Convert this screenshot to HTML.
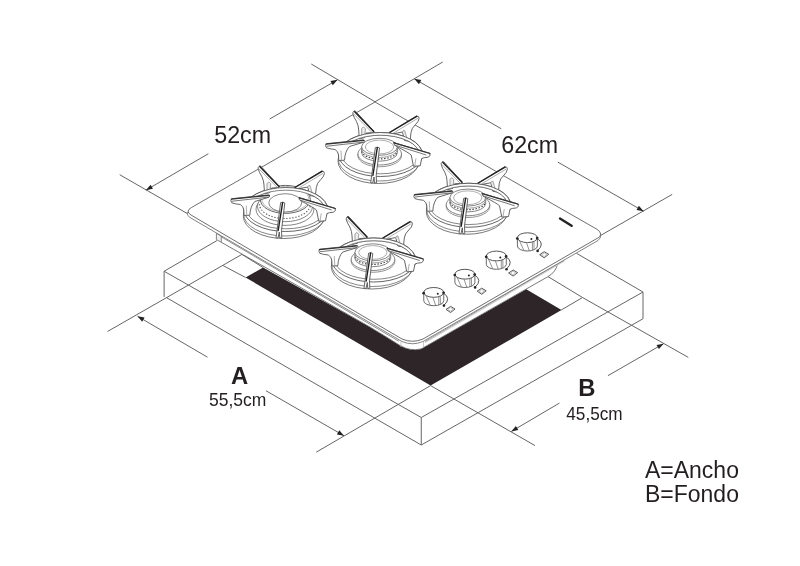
<!DOCTYPE html>
<html><head><meta charset="utf-8">
<style>
html,body{margin:0;padding:0;background:#fff;width:800px;height:566px;overflow:hidden}
svg{display:block;position:absolute;left:0;top:0}
.t{font-family:"Liberation Sans",sans-serif;fill:#231f20}
</style></head><body>
<svg width="800" height="566" viewBox="0 0 800 566">

<!-- dark cutout -->
<path d="M245.6,277.5 L263.1,267.5 L369,326.5 Q385,336 400,345.5 Q410,351.5 421,349 L526.25,289.15 L561.5,310 L430.6,385.6 Z" fill="#2d2528"/>

<g fill="none" stroke="#666" stroke-width="1">
  <!-- countertop box -->
  <path d="M216.9,240.6 L164.1,271.25 L164.1,296.9"/>
  <path d="M164.1,271.25 L421.25,417.5 L643,292 L576.5,253.3"/>
  <path d="M166.25,297.5 L421.25,445 L643,318.75 L643,292"/>
  <path d="M421.25,417.5 L421.25,445"/>
  <!-- cutout lines -->
  <path d="M241.9,254.4 L263.1,267.5"/>
  <path d="M223.1,265.6 L245.6,277.5"/>
  <path d="M582.5,297.5 L561.25,310"/>
  <path d="M548,276.6 L582.5,297.5"/>
  <!-- A extension/dimension -->
  <path d="M107.5,331.5 L241.9,254.4"/>
  <path d="M316.2,452.2 L430.6,385.6"/>
  <path d="M137.5,316.25 L207.5,357.2"/>
  <path d="M266,390.75 L344,435.75"/>
  <!-- B -->
  <path d="M430.6,385.6 L535,445.6"/>
  <path d="M582.5,297.5 L688.3,357.4"/>
  <path d="M663.6,343.65 L607.9,375.7"/>
  <path d="M559.4,403.1 L511.25,431.5"/>
  <!-- 52cm -->
  <path d="M119.7,174.7 L187.2,213.5"/>
  <path d="M145.9,190.2 L208.4,153.7"/>
  <path d="M269.7,119 L337.5,79.75"/>
  <path d="M311.25,64 L375,101.75"/>
  <!-- 62cm -->
  <path d="M442.75,62 L375,101.75"/>
  <path d="M414.25,78.8 L501.25,128.75"/>
  <path d="M557.8,162.1 L643.6,211.25"/>
  <path d="M672.2,194.4 L600.5,235.5"/>
</g>

<!-- cooktop -->
<g stroke-linejoin="round">
  <!-- body -->
  <path d="M216.4,233.25 L216.4,239.6 L221.25,242.25 L369,326.5 Q385,336 400,345.5 Q410,351.5 421,349 L547.75,276.75 Q556,272 557.5,264 L564.25,259.1 L599.5,239 L188,216 Z" fill="#fff" stroke="none"/>
  <path d="M216.4,233.25 L216.4,239.6 L221.25,242.25 L221.25,236.25 Z" fill="#f0f0f0" stroke="#666" stroke-width="0.8"/>
  <path d="M221.25,242.25 L369,326.5 Q385,336 400,345.5 Q410,351.5 421,349 L547.75,276.75 Q556,272 557.5,264 L564.25,259.1" fill="none" stroke="#555" stroke-width="0.8"/>
  <path d="M221.25,236.8 L399,341.3 M425,341.6 L564.25,260.2" fill="none" stroke="#6a6a6a" stroke-width="0.75"/>
  <path d="M425,342.5 L564.25,261" fill="none" stroke="#ccc" stroke-width="1.2"/>
  <path d="M401,341.6 L401,347 M423.5,341.6 L423.5,347.5" fill="none" stroke="#bbb" stroke-width="0.8"/>
  <!-- glass thickness -->
  <path d="M187.2,212.5 Q186.8,215.5 190,217.5 L402,341.5 Q412.5,346 423,341.5 L598,240.5 Q601.5,238 600.5,234 Z" fill="#fff" stroke="#666" stroke-width="0.8"/>
  <!-- glass top -->
  <path d="M191.5,207.5 L375,102 L597,229.3 Q602.5,233 599.5,237 L423,339 Q412.5,343.5 402,339 L191,215 Q185,211 191.5,207.5 Z" fill="#fff" stroke="#555" stroke-width="0.85"/>
</g>
<path d="M560,218.6 L571.6,225.75" stroke="#222" stroke-width="2.4" stroke-linecap="round"/>

<g transform="translate(283.8,216)" fill="none" stroke-width="0.8">
  <ellipse cx="0" cy="0" rx="40.5" ry="22.5" stroke="#555" fill="#fff"/>
  <ellipse cx="1" cy="-2" rx="41.2" ry="22" stroke="#6a6a6a"/>
  <ellipse cx="2" cy="-6.5" rx="42" ry="22" stroke="#555" stroke-width="0.9" fill="#fff"/>
  <ellipse cx="2" cy="-6.5" rx="39" ry="19.3" stroke="#666"/>
</g><g transform="translate(283.8,216)" fill="#fff" stroke="#666" stroke-width="0.8">
  <ellipse cx="1.2" cy="-6.8" rx="29" ry="16.2" stroke="#666"/>
  <ellipse cx="1.2" cy="-9.7" rx="27.5" ry="15.4" stroke="#666"/>
  <path d="M-24.3,-11.8 A25.5,14.3 0 0 0 26.7,-11.8" fill="none" stroke="#555" stroke-dasharray="1.3,1.7" stroke-width="1.1"/>
  <ellipse cx="1.5" cy="-16.6" rx="25" ry="14" stroke="#555" stroke-width="0.9"/>
  <ellipse cx="1.5" cy="-16.8" rx="23.5" ry="12.8" fill="none" stroke="#999" stroke-width="0.7"/>
  <ellipse cx="1.45" cy="-13.15" rx="16.5" ry="9.15" stroke="#666"/>
</g><g transform="translate(283.8,216)" fill="#fff" stroke="#555" stroke-width="0.9" stroke-linejoin="round" stroke-linecap="round">
  <!-- back-left arm -->
  <path d="M-24.5,-49.8 Q-26.5,-48.5 -25.4,-46.5 Q-24.5,-43.5 -22,-39.5 Q-19.8,-35 -19.8,-31 L-19.2,-22 L-13.8,-23.5 L-12.3,-28 L-6.3,-28.3 Q-3.8,-29 -4.8,-30 L-23,-49.8 Q-23.8,-50.5 -24.5,-49.8 Z"/>
  <path d="M-16.8,-23.5 L-16.8,-32.25 Q-15.3,-35.5 -13.05,-32.25 L-13.8,-24.5" fill="#eee" stroke="#777" stroke-width="0.7"/>
  <path d="M-25,-47.25 L-6.3,-28.3" fill="none" stroke="#888" stroke-width="0.7"/>
  <path d="M-23.8,-49.2 L-4.8,-29.5" fill="none" stroke="#222" stroke-width="1.45"/>
  <!-- back-right arm -->
  <path d="M38.2,-44.9 Q40.8,-45.2 40.6,-42.5 Q40,-39 37,-36.5 Q33,-33 32.5,-28.5 L31.5,-19.5 L26,-20.5 L24,-29 L13.45,-27 L11,-28.3 Z"/>
  <path d="M24,-29.25 Q24.7,-31.2 26.2,-30.5 L29,-21" fill="#e4e4e4" stroke="#888" stroke-width="0.7"/>
  <path d="M39,-42.5 L13.45,-27" fill="none" stroke="#888" stroke-width="0.7"/>
  <path d="M38.2,-44.7 L11.2,-28.5" fill="none" stroke="#222" stroke-width="1.45"/>
  <!-- ring back band -->
  <path d="M-40,-6.5 A42,22 0 0 1 44,-6.5 L41,-6.5 A39,19.3 0 0 0 -37,-6.5 Z" fill="#fff" stroke="none"/>
  <path d="M-40,-6.5 A42,22 0 0 1 44,-6.5" fill="none" stroke="#555" stroke-width="0.9"/>
  <path d="M-37,-6.5 A39,19.3 0 0 1 41,-6.5" fill="none" stroke="#666" stroke-width="0.8"/>
  <!-- left arm -->
  <path d="M-52.4,-17 Q-53.8,-15 -52,-13.2 Q-49,-12 -43.5,-11.5 Q-40.5,-10 -40,-6 L-39.7,-0.5 L-34,-0.8 Q-33.5,-10 -29,-14.5 L-14.8,-18.8 Q-13,-20 -14.6,-20.9 Z"/>
  <path d="M-51.5,-14.8 L-15.5,-18.8" fill="none" stroke="#555" stroke-width="0.8"/>
  <path d="M-52.4,-16.8 L-14.6,-20.7" fill="none" stroke="#333" stroke-width="1.3"/>
  <!-- right arm -->
  <path d="M15.45,-18.3 L51.2,-7.8 Q52.8,-5 49.5,-3.8 Q45,-3.5 43.2,-2.5 L41.7,4.8 L35,5.3 L32.7,-6 Q30,-8.5 17.7,-14.8 Q14.3,-16.5 15.45,-18.3 Z"/>
  <path d="M16.3,-15.9 L47.5,-6.1" fill="none" stroke="#555" stroke-width="0.8"/>
  <path d="M37.4,-2.2 L36.2,5" fill="none" stroke="#888" stroke-width="0.7"/>
  <path d="M-37.5,-10 L-37,-0.6" fill="none" stroke="#888" stroke-width="0.7"/>
  <path d="M15.45,-18.1 L51.45,-7.5" fill="none" stroke="#333" stroke-width="1.3"/>
  <!-- front prong -->
  <path d="M-2.8,-13.5 Q-0.5,-14.5 1,-13 L-2.3,14.5 L-2,21.8 L-4,22 L-4.5,16 L-5.8,22 L-7.8,21.8 L-6.8,14.5 Z"/>
  <path d="M-1.2,-13.3 L-5.6,14.5" fill="none" stroke="#1e1e1e" stroke-width="1.4"/>
</g>
<g transform="translate(378.5,161)" fill="none" stroke-width="0.8">
  <ellipse cx="0" cy="0" rx="40.5" ry="22.5" stroke="#555" fill="#fff"/>
  <ellipse cx="1" cy="-2" rx="41.2" ry="22" stroke="#6a6a6a"/>
  <ellipse cx="2" cy="-6.5" rx="42" ry="22" stroke="#555" stroke-width="0.9" fill="#fff"/>
  <ellipse cx="2" cy="-6.5" rx="39" ry="19.3" stroke="#666"/>
</g><g transform="translate(378.5,161)" fill="#fff" stroke="#666" stroke-width="0.8">
  <path d="M-20.6,-7 L-20.6,-5.25 A21.8,11 0 0 0 23,-5.25 L23,-7 Z" stroke="#777"/>
  <ellipse cx="1.2" cy="-7" rx="21.8" ry="11" stroke="#666"/>
  <path d="M-16.9,-14.2 L-16.9,-8.3 A17.9,8.5 0 0 0 18.9,-8.3 L18.9,-14.2 Z" stroke="#666"/>
  <path d="M-16.7,-9.5 A17.8,8.3 0 0 0 18.7,-9.5" fill="none" stroke="#444" stroke-dasharray="1.5,1.6" stroke-width="1.2"/>
  <path d="M-16.9,-12 A17.9,8.5 0 0 0 18.9,-12" fill="none" stroke="#888"/>
  <ellipse cx="1" cy="-14.2" rx="17.9" ry="8.5" stroke="#666"/>
  <ellipse cx="1" cy="-14" rx="14.2" ry="6.9" fill="none" stroke="#999"/>
</g><g transform="translate(378.5,161)" fill="#fff" stroke="#555" stroke-width="0.9" stroke-linejoin="round" stroke-linecap="round">
  <!-- back-left arm -->
  <path d="M-24.5,-49.8 Q-26.5,-48.5 -25.4,-46.5 Q-24.5,-43.5 -22,-39.5 Q-19.8,-35 -19.8,-31 L-19.2,-22 L-13.8,-23.5 L-12.3,-28 L-6.3,-28.3 Q-3.8,-29 -4.8,-30 L-23,-49.8 Q-23.8,-50.5 -24.5,-49.8 Z"/>
  <path d="M-16.8,-23.5 L-16.8,-32.25 Q-15.3,-35.5 -13.05,-32.25 L-13.8,-24.5" fill="#eee" stroke="#777" stroke-width="0.7"/>
  <path d="M-25,-47.25 L-6.3,-28.3" fill="none" stroke="#888" stroke-width="0.7"/>
  <path d="M-23.8,-49.2 L-4.8,-29.5" fill="none" stroke="#222" stroke-width="1.45"/>
  <!-- back-right arm -->
  <path d="M38.2,-44.9 Q40.8,-45.2 40.6,-42.5 Q40,-39 37,-36.5 Q33,-33 32.5,-28.5 L31.5,-19.5 L26,-20.5 L24,-29 L13.45,-27 L11,-28.3 Z"/>
  <path d="M24,-29.25 Q24.7,-31.2 26.2,-30.5 L29,-21" fill="#e4e4e4" stroke="#888" stroke-width="0.7"/>
  <path d="M39,-42.5 L13.45,-27" fill="none" stroke="#888" stroke-width="0.7"/>
  <path d="M38.2,-44.7 L11.2,-28.5" fill="none" stroke="#222" stroke-width="1.45"/>
  <!-- ring back band -->
  <path d="M-40,-6.5 A42,22 0 0 1 44,-6.5 L41,-6.5 A39,19.3 0 0 0 -37,-6.5 Z" fill="#fff" stroke="none"/>
  <path d="M-40,-6.5 A42,22 0 0 1 44,-6.5" fill="none" stroke="#555" stroke-width="0.9"/>
  <path d="M-37,-6.5 A39,19.3 0 0 1 41,-6.5" fill="none" stroke="#666" stroke-width="0.8"/>
  <!-- left arm -->
  <path d="M-52.4,-17 Q-53.8,-15 -52,-13.2 Q-49,-12 -43.5,-11.5 Q-40.5,-10 -40,-6 L-39.7,-0.5 L-34,-0.8 Q-33.5,-10 -29,-14.5 L-14.8,-18.8 Q-13,-20 -14.6,-20.9 Z"/>
  <path d="M-51.5,-14.8 L-15.5,-18.8" fill="none" stroke="#555" stroke-width="0.8"/>
  <path d="M-52.4,-16.8 L-14.6,-20.7" fill="none" stroke="#333" stroke-width="1.3"/>
  <!-- right arm -->
  <path d="M15.45,-18.3 L51.2,-7.8 Q52.8,-5 49.5,-3.8 Q45,-3.5 43.2,-2.5 L41.7,4.8 L35,5.3 L32.7,-6 Q30,-8.5 17.7,-14.8 Q14.3,-16.5 15.45,-18.3 Z"/>
  <path d="M16.3,-15.9 L47.5,-6.1" fill="none" stroke="#555" stroke-width="0.8"/>
  <path d="M37.4,-2.2 L36.2,5" fill="none" stroke="#888" stroke-width="0.7"/>
  <path d="M-37.5,-10 L-37,-0.6" fill="none" stroke="#888" stroke-width="0.7"/>
  <path d="M15.45,-18.1 L51.45,-7.5" fill="none" stroke="#333" stroke-width="1.3"/>
  <!-- front prong -->
  <path d="M-2.8,-13.5 Q-0.5,-14.5 1,-13 L-2.3,14.5 L-2,21.8 L-4,22 L-4.5,16 L-5.8,22 L-7.8,21.8 L-6.8,14.5 Z"/>
  <path d="M-1.2,-13.3 L-5.6,14.5" fill="none" stroke="#1e1e1e" stroke-width="1.4"/>
</g>
<g transform="translate(466.8,211.75)" fill="none" stroke-width="0.8">
  <ellipse cx="0" cy="0" rx="40.5" ry="22.5" stroke="#555" fill="#fff"/>
  <ellipse cx="1" cy="-2" rx="41.2" ry="22" stroke="#6a6a6a"/>
  <ellipse cx="2" cy="-6.5" rx="42" ry="22" stroke="#555" stroke-width="0.9" fill="#fff"/>
  <ellipse cx="2" cy="-6.5" rx="39" ry="19.3" stroke="#666"/>
</g><g transform="translate(466.8,211.75)" fill="#fff" stroke="#666" stroke-width="0.8">
  <path d="M-20.6,-7 L-20.6,-5.25 A21.8,11 0 0 0 23,-5.25 L23,-7 Z" stroke="#777"/>
  <ellipse cx="1.2" cy="-7" rx="21.8" ry="11" stroke="#666"/>
  <path d="M-16.9,-14.2 L-16.9,-8.3 A17.9,8.5 0 0 0 18.9,-8.3 L18.9,-14.2 Z" stroke="#666"/>
  <path d="M-16.7,-9.5 A17.8,8.3 0 0 0 18.7,-9.5" fill="none" stroke="#444" stroke-dasharray="1.5,1.6" stroke-width="1.2"/>
  <path d="M-16.9,-12 A17.9,8.5 0 0 0 18.9,-12" fill="none" stroke="#888"/>
  <ellipse cx="1" cy="-14.2" rx="17.9" ry="8.5" stroke="#666"/>
  <ellipse cx="1" cy="-14" rx="14.2" ry="6.9" fill="none" stroke="#999"/>
</g><g transform="translate(466.8,211.75)" fill="#fff" stroke="#555" stroke-width="0.9" stroke-linejoin="round" stroke-linecap="round">
  <!-- back-left arm -->
  <path d="M-24.5,-49.8 Q-26.5,-48.5 -25.4,-46.5 Q-24.5,-43.5 -22,-39.5 Q-19.8,-35 -19.8,-31 L-19.2,-22 L-13.8,-23.5 L-12.3,-28 L-6.3,-28.3 Q-3.8,-29 -4.8,-30 L-23,-49.8 Q-23.8,-50.5 -24.5,-49.8 Z"/>
  <path d="M-16.8,-23.5 L-16.8,-32.25 Q-15.3,-35.5 -13.05,-32.25 L-13.8,-24.5" fill="#eee" stroke="#777" stroke-width="0.7"/>
  <path d="M-25,-47.25 L-6.3,-28.3" fill="none" stroke="#888" stroke-width="0.7"/>
  <path d="M-23.8,-49.2 L-4.8,-29.5" fill="none" stroke="#222" stroke-width="1.45"/>
  <!-- back-right arm -->
  <path d="M38.2,-44.9 Q40.8,-45.2 40.6,-42.5 Q40,-39 37,-36.5 Q33,-33 32.5,-28.5 L31.5,-19.5 L26,-20.5 L24,-29 L13.45,-27 L11,-28.3 Z"/>
  <path d="M24,-29.25 Q24.7,-31.2 26.2,-30.5 L29,-21" fill="#e4e4e4" stroke="#888" stroke-width="0.7"/>
  <path d="M39,-42.5 L13.45,-27" fill="none" stroke="#888" stroke-width="0.7"/>
  <path d="M38.2,-44.7 L11.2,-28.5" fill="none" stroke="#222" stroke-width="1.45"/>
  <!-- ring back band -->
  <path d="M-40,-6.5 A42,22 0 0 1 44,-6.5 L41,-6.5 A39,19.3 0 0 0 -37,-6.5 Z" fill="#fff" stroke="none"/>
  <path d="M-40,-6.5 A42,22 0 0 1 44,-6.5" fill="none" stroke="#555" stroke-width="0.9"/>
  <path d="M-37,-6.5 A39,19.3 0 0 1 41,-6.5" fill="none" stroke="#666" stroke-width="0.8"/>
  <!-- left arm -->
  <path d="M-52.4,-17 Q-53.8,-15 -52,-13.2 Q-49,-12 -43.5,-11.5 Q-40.5,-10 -40,-6 L-39.7,-0.5 L-34,-0.8 Q-33.5,-10 -29,-14.5 L-14.8,-18.8 Q-13,-20 -14.6,-20.9 Z"/>
  <path d="M-51.5,-14.8 L-15.5,-18.8" fill="none" stroke="#555" stroke-width="0.8"/>
  <path d="M-52.4,-16.8 L-14.6,-20.7" fill="none" stroke="#333" stroke-width="1.3"/>
  <!-- right arm -->
  <path d="M15.45,-18.3 L51.2,-7.8 Q52.8,-5 49.5,-3.8 Q45,-3.5 43.2,-2.5 L41.7,4.8 L35,5.3 L32.7,-6 Q30,-8.5 17.7,-14.8 Q14.3,-16.5 15.45,-18.3 Z"/>
  <path d="M16.3,-15.9 L47.5,-6.1" fill="none" stroke="#555" stroke-width="0.8"/>
  <path d="M37.4,-2.2 L36.2,5" fill="none" stroke="#888" stroke-width="0.7"/>
  <path d="M-37.5,-10 L-37,-0.6" fill="none" stroke="#888" stroke-width="0.7"/>
  <path d="M15.45,-18.1 L51.45,-7.5" fill="none" stroke="#333" stroke-width="1.3"/>
  <!-- front prong -->
  <path d="M-2.8,-13.5 Q-0.5,-14.5 1,-13 L-2.3,14.5 L-2,21.8 L-4,22 L-4.5,16 L-5.8,22 L-7.8,21.8 L-6.8,14.5 Z"/>
  <path d="M-1.2,-13.3 L-5.6,14.5" fill="none" stroke="#1e1e1e" stroke-width="1.4"/>
</g>
<g transform="translate(371.8,266.5)" fill="none" stroke-width="0.8">
  <ellipse cx="0" cy="0" rx="40.5" ry="22.5" stroke="#555" fill="#fff"/>
  <ellipse cx="1" cy="-2" rx="41.2" ry="22" stroke="#6a6a6a"/>
  <ellipse cx="2" cy="-6.5" rx="42" ry="22" stroke="#555" stroke-width="0.9" fill="#fff"/>
  <ellipse cx="2" cy="-6.5" rx="39" ry="19.3" stroke="#666"/>
</g><g transform="translate(371.8,266.5)" fill="#fff" stroke="#666" stroke-width="0.8">
  <path d="M-20.6,-7 L-20.6,-5.25 A21.8,11 0 0 0 23,-5.25 L23,-7 Z" stroke="#777"/>
  <ellipse cx="1.2" cy="-7" rx="21.8" ry="11" stroke="#666"/>
  <path d="M-16.9,-14.2 L-16.9,-8.3 A17.9,8.5 0 0 0 18.9,-8.3 L18.9,-14.2 Z" stroke="#666"/>
  <path d="M-16.7,-9.5 A17.8,8.3 0 0 0 18.7,-9.5" fill="none" stroke="#444" stroke-dasharray="1.5,1.6" stroke-width="1.2"/>
  <path d="M-16.9,-12 A17.9,8.5 0 0 0 18.9,-12" fill="none" stroke="#888"/>
  <ellipse cx="1" cy="-14.2" rx="17.9" ry="8.5" stroke="#666"/>
  <ellipse cx="1" cy="-14" rx="14.2" ry="6.9" fill="none" stroke="#999"/>
</g><g transform="translate(371.8,266.5)" fill="#fff" stroke="#555" stroke-width="0.9" stroke-linejoin="round" stroke-linecap="round">
  <!-- back-left arm -->
  <path d="M-24.5,-49.8 Q-26.5,-48.5 -25.4,-46.5 Q-24.5,-43.5 -22,-39.5 Q-19.8,-35 -19.8,-31 L-19.2,-22 L-13.8,-23.5 L-12.3,-28 L-6.3,-28.3 Q-3.8,-29 -4.8,-30 L-23,-49.8 Q-23.8,-50.5 -24.5,-49.8 Z"/>
  <path d="M-16.8,-23.5 L-16.8,-32.25 Q-15.3,-35.5 -13.05,-32.25 L-13.8,-24.5" fill="#eee" stroke="#777" stroke-width="0.7"/>
  <path d="M-25,-47.25 L-6.3,-28.3" fill="none" stroke="#888" stroke-width="0.7"/>
  <path d="M-23.8,-49.2 L-4.8,-29.5" fill="none" stroke="#222" stroke-width="1.45"/>
  <!-- back-right arm -->
  <path d="M38.2,-44.9 Q40.8,-45.2 40.6,-42.5 Q40,-39 37,-36.5 Q33,-33 32.5,-28.5 L31.5,-19.5 L26,-20.5 L24,-29 L13.45,-27 L11,-28.3 Z"/>
  <path d="M24,-29.25 Q24.7,-31.2 26.2,-30.5 L29,-21" fill="#e4e4e4" stroke="#888" stroke-width="0.7"/>
  <path d="M39,-42.5 L13.45,-27" fill="none" stroke="#888" stroke-width="0.7"/>
  <path d="M38.2,-44.7 L11.2,-28.5" fill="none" stroke="#222" stroke-width="1.45"/>
  <!-- ring back band -->
  <path d="M-40,-6.5 A42,22 0 0 1 44,-6.5 L41,-6.5 A39,19.3 0 0 0 -37,-6.5 Z" fill="#fff" stroke="none"/>
  <path d="M-40,-6.5 A42,22 0 0 1 44,-6.5" fill="none" stroke="#555" stroke-width="0.9"/>
  <path d="M-37,-6.5 A39,19.3 0 0 1 41,-6.5" fill="none" stroke="#666" stroke-width="0.8"/>
  <!-- left arm -->
  <path d="M-52.4,-17 Q-53.8,-15 -52,-13.2 Q-49,-12 -43.5,-11.5 Q-40.5,-10 -40,-6 L-39.7,-0.5 L-34,-0.8 Q-33.5,-10 -29,-14.5 L-14.8,-18.8 Q-13,-20 -14.6,-20.9 Z"/>
  <path d="M-51.5,-14.8 L-15.5,-18.8" fill="none" stroke="#555" stroke-width="0.8"/>
  <path d="M-52.4,-16.8 L-14.6,-20.7" fill="none" stroke="#333" stroke-width="1.3"/>
  <!-- right arm -->
  <path d="M15.45,-18.3 L51.2,-7.8 Q52.8,-5 49.5,-3.8 Q45,-3.5 43.2,-2.5 L41.7,4.8 L35,5.3 L32.7,-6 Q30,-8.5 17.7,-14.8 Q14.3,-16.5 15.45,-18.3 Z"/>
  <path d="M16.3,-15.9 L47.5,-6.1" fill="none" stroke="#555" stroke-width="0.8"/>
  <path d="M37.4,-2.2 L36.2,5" fill="none" stroke="#888" stroke-width="0.7"/>
  <path d="M-37.5,-10 L-37,-0.6" fill="none" stroke="#888" stroke-width="0.7"/>
  <path d="M15.45,-18.1 L51.45,-7.5" fill="none" stroke="#333" stroke-width="1.3"/>
  <!-- front prong -->
  <path d="M-2.8,-13.5 Q-0.5,-14.5 1,-13 L-2.3,14.5 L-2,21.8 L-4,22 L-4.5,16 L-5.8,22 L-7.8,21.8 L-6.8,14.5 Z"/>
  <path d="M-1.2,-13.3 L-5.6,14.5" fill="none" stroke="#1e1e1e" stroke-width="1.4"/>
</g>

<g transform="translate(433.25,292.2)" stroke="#444" stroke-width="0.8">
  <path d="M-9.5,0.2 L-9.5,8.5 A10,5 0 0 0 10.5,8.5 L10.5,0.2 Z" fill="#fff"/>
  <ellipse cx="0.5" cy="0.2" rx="10" ry="4.9" fill="#fff" stroke-width="0.9"/>
  <path d="M-7.5,3 L-3,13 M-0.5,4.8 L2.5,13.5 M5.5,4.3 L5.5,13 M7,4 L7.2,12.5" fill="none" stroke="#777"/>
  <circle cx="-9.6" cy="1" r="1.35" fill="#222" stroke="none"/>
  <circle cx="10.3" cy="0.6" r="1.35" fill="#222" stroke="none"/>
  <circle cx="4.5" cy="1.6" r="1" fill="#222" stroke="none"/>
  <path d="M10,0.8 Q18.5,6 10.7,13.2" fill="none" stroke="#444" stroke-width="0.9"/>
  <circle cx="10.7" cy="13.4" r="1.3" fill="#222" stroke="none"/>
  <path d="M12.8,17.2 L17.3,14.2 L21.8,16.8 L17.3,20.3 Z" fill="#fff" stroke="#444" stroke-width="0.9"/>
  <path d="M14.6,17.2 L17.3,15.5 L20,17 L17.3,19 Z" fill="none" stroke="#999" stroke-width="0.6"/>
</g>
<g transform="translate(464.4,274)" stroke="#444" stroke-width="0.8">
  <path d="M-9.5,0.2 L-9.5,8.5 A10,5 0 0 0 10.5,8.5 L10.5,0.2 Z" fill="#fff"/>
  <ellipse cx="0.5" cy="0.2" rx="10" ry="4.9" fill="#fff" stroke-width="0.9"/>
  <path d="M-7.5,3 L-3,13 M-0.5,4.8 L2.5,13.5 M5.5,4.3 L5.5,13 M7,4 L7.2,12.5" fill="none" stroke="#777"/>
  <circle cx="-9.6" cy="1" r="1.35" fill="#222" stroke="none"/>
  <circle cx="10.3" cy="0.6" r="1.35" fill="#222" stroke="none"/>
  <circle cx="4.5" cy="1.6" r="1" fill="#222" stroke="none"/>
  <path d="M10,0.8 Q18.5,6 10.7,13.2" fill="none" stroke="#444" stroke-width="0.9"/>
  <circle cx="10.7" cy="13.4" r="1.3" fill="#222" stroke="none"/>
  <path d="M12.8,17.2 L17.3,14.2 L21.8,16.8 L17.3,20.3 Z" fill="#fff" stroke="#444" stroke-width="0.9"/>
  <path d="M14.6,17.2 L17.3,15.5 L20,17 L17.3,19 Z" fill="none" stroke="#999" stroke-width="0.6"/>
</g>
<g transform="translate(495.8,255.8)" stroke="#444" stroke-width="0.8">
  <path d="M-9.5,0.2 L-9.5,8.5 A10,5 0 0 0 10.5,8.5 L10.5,0.2 Z" fill="#fff"/>
  <ellipse cx="0.5" cy="0.2" rx="10" ry="4.9" fill="#fff" stroke-width="0.9"/>
  <path d="M-7.5,3 L-3,13 M-0.5,4.8 L2.5,13.5 M5.5,4.3 L5.5,13 M7,4 L7.2,12.5" fill="none" stroke="#777"/>
  <circle cx="-9.6" cy="1" r="1.35" fill="#222" stroke="none"/>
  <circle cx="10.3" cy="0.6" r="1.35" fill="#222" stroke="none"/>
  <circle cx="4.5" cy="1.6" r="1" fill="#222" stroke="none"/>
  <path d="M10,0.8 Q18.5,6 10.7,13.2" fill="none" stroke="#444" stroke-width="0.9"/>
  <circle cx="10.7" cy="13.4" r="1.3" fill="#222" stroke="none"/>
  <path d="M12.8,17.2 L17.3,14.2 L21.8,16.8 L17.3,20.3 Z" fill="#fff" stroke="#444" stroke-width="0.9"/>
  <path d="M14.6,17.2 L17.3,15.5 L20,17 L17.3,19 Z" fill="none" stroke="#999" stroke-width="0.6"/>
</g>
<g transform="translate(526.9,237.5)" stroke="#444" stroke-width="0.8">
  <path d="M-9.5,0.2 L-9.5,8.5 A10,5 0 0 0 10.5,8.5 L10.5,0.2 Z" fill="#fff"/>
  <ellipse cx="0.5" cy="0.2" rx="10" ry="4.9" fill="#fff" stroke-width="0.9"/>
  <path d="M-7.5,3 L-3,13 M-0.5,4.8 L2.5,13.5 M5.5,4.3 L5.5,13 M7,4 L7.2,12.5" fill="none" stroke="#777"/>
  <circle cx="-9.6" cy="1" r="1.35" fill="#222" stroke="none"/>
  <circle cx="10.3" cy="0.6" r="1.35" fill="#222" stroke="none"/>
  <circle cx="4.5" cy="1.6" r="1" fill="#222" stroke="none"/>
  <path d="M10,0.8 Q18.5,6 10.7,13.2" fill="none" stroke="#444" stroke-width="0.9"/>
  <circle cx="10.7" cy="13.4" r="1.3" fill="#222" stroke="none"/>
  <path d="M12.8,17.2 L17.3,14.2 L21.8,16.8 L17.3,20.3 Z" fill="#fff" stroke="#444" stroke-width="0.9"/>
  <path d="M14.6,17.2 L17.3,15.5 L20,17 L17.3,19 Z" fill="none" stroke="#999" stroke-width="0.6"/>
</g>

<!-- arrows -->
<g fill="#222">
  <path d="M145.90,190.20 L152.98,188.84 L150.56,184.70 Z"/>
  <path d="M337.50,79.75 L330.41,81.08 L332.82,85.23 Z"/>
  <path d="M414.25,78.80 L418.95,84.27 L421.34,80.10 Z"/>
  <path d="M643.60,211.25 L638.89,205.79 L636.51,209.95 Z"/>
  <path d="M137.50,316.25 L142.16,321.76 L144.58,317.61 Z"/>
  <path d="M344.00,435.75 L339.31,430.27 L336.91,434.43 Z"/>
  <path d="M663.60,343.65 L656.51,344.96 L658.90,349.12 Z"/>
  <path d="M511.25,431.50 L518.33,430.11 L515.89,425.98 Z"/>
</g>

<g style="will-change:transform">
<text class="t" transform="translate(214.3,143) scale(1.01,1.06)" font-size="23">52cm</text>
<text class="t" transform="translate(501.3,153) scale(1.01,1.06)" font-size="23">62cm</text>
<text class="t" transform="translate(231,384)" font-size="23.8" font-weight="bold">A</text>
<text class="t" transform="translate(209,405.5) scale(1,1.05)" font-size="17.5">55,5cm</text>
<text class="t" transform="translate(578.3,395.6)" font-size="23.8" font-weight="bold">B</text>
<text class="t" transform="translate(566.3,420) scale(1,1.05)" font-size="17.2">45,5cm</text>
<text class="t" transform="translate(645,478) scale(1,1.03)" font-size="23">A=Ancho</text>
<text class="t" transform="translate(645,502.4) scale(1,1.03)" font-size="23">B=Fondo</text>
</g>
</svg>
</body></html>
